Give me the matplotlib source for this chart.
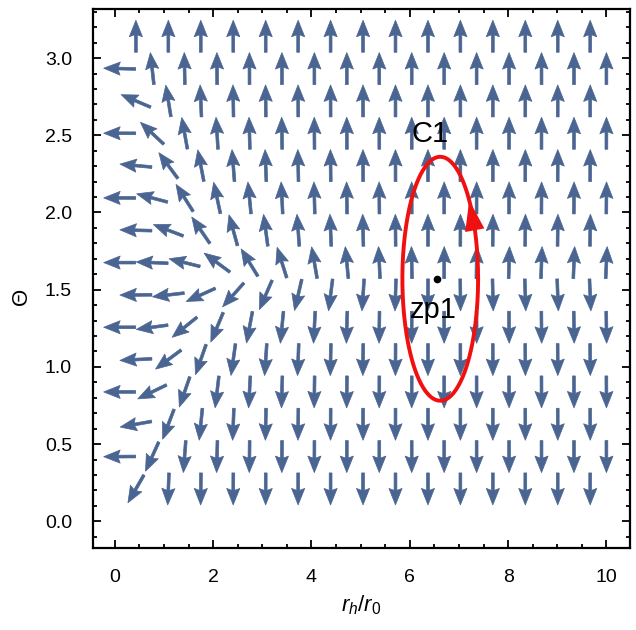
import numpy as np
import matplotlib.pyplot as plt
from matplotlib.ticker import MultipleLocator

plt.rcParams['font.family'] = ['Liberation Sans', 'DejaVu Sans']
plt.rcParams['mathtext.fontset'] = 'custom'
plt.rcParams['mathtext.rm'] = 'Liberation Sans'
plt.rcParams['mathtext.it'] = 'Liberation Sans:italic'

# staggered sampling grid of the vector plot
theta_rows = np.pi * np.arange(1, 16) / 15
r_even = np.linspace(0.1, 10.0, 16)
r_odd = (r_even[:-1] + r_even[1:]) / 2

# phi^r ~ -a/r^3 - b/r^2 + c  (zero near r_h/r_0 = 6.6), phi^Theta = -cot csc
phi_a, phi_b, phi_c = 2.986, 0.622, 0.0247

# contour C1 and zero point zp1
zp1 = (6.56, np.pi / 2)
c1_center = (6.62, np.pi / 2)
c1_half = (0.77, 0.79)

xlim = (-0.448, 10.48)
ylim = (-0.173, 3.318)
arrow_col = '#4a6591'


def phi_r(r):
    return -phi_a / r**3 - phi_b / r**2 + phi_c


def phi_t(t):
    return -np.cos(t) / np.sin(t)**2


fig = plt.figure(figsize=(6.36, 6.30), dpi=100)
ax = fig.add_axes([0.1458, 0.1302, 0.8448, 0.8555])
ax.set_xlim(*xlim)
ax.set_ylim(*ylim)

# pixels per data unit, so arrows have the same on-screen length
pos = ax.get_position()
sx = pos.width * 636 / (xlim[1] - xlim[0])
sy = pos.height * 630 / (ylim[1] - ylim[0])

X, Y = [], []
for k, t in enumerate(theta_rows, start=1):
    rs = r_even if k % 2 == 0 else r_odd
    X.extend(rs)
    Y.extend([t] * len(rs))
X = np.array(X)
Y = np.array(Y)
U = phi_r(X) * sx
V = phi_t(Y) * sy
n = np.hypot(U, V)
L = 32.0
ax.quiver(X, Y, U / n * L, V / n * L, angles='uv', scale_units='dots', scale=1,
          units='dots', width=2.8, headwidth=4.7, headlength=5.9,
          headaxislength=5.2, pivot='middle', color=arrow_col,
          edgecolor=arrow_col, linewidth=0.5, zorder=2)

# contour C1
s = np.linspace(0, 2 * np.pi, 300)
ex = c1_center[0] + c1_half[0] * np.cos(s)
ey = c1_center[1] + c1_half[1] * np.sin(s)
ax.plot(ex, ey, color='#f01010', lw=2.8, zorder=3)
t_tip, t_tail = 0.70, 0.38
tip = (c1_center[0] + c1_half[0] * np.cos(t_tip), c1_center[1] + c1_half[1] * np.sin(t_tip))
tail = (c1_center[0] + c1_half[0] * np.cos(t_tail), c1_center[1] + c1_half[1] * np.sin(t_tail))
ax.annotate('', xy=tip, xytext=tail,
            arrowprops=dict(arrowstyle='-|>,head_length=22,head_width=7',
                            mutation_scale=1, color='#f01010', lw=0,
                            shrinkA=0, shrinkB=0), zorder=4)

ax.plot(*zp1, 'o', color='black', ms=4.5, zorder=5)
ax.text(6.42, 2.51, 'C1', fontsize=21, ha='center', va='center', zorder=5)
ax.text(6.48, 1.37, 'zp1', fontsize=21, ha='center', va='center', zorder=5)

ax.set_xticks(range(0, 11, 2))
ax.xaxis.set_minor_locator(MultipleLocator(0.5))
ax.yaxis.set_major_locator(MultipleLocator(0.5))
ax.yaxis.set_minor_locator(MultipleLocator(0.1))
ax.tick_params(which='both', direction='in', top=True, right=True, width=1.3)
ax.tick_params(which='major', length=5.5, labelsize=14, pad=15)
ax.tick_params(which='minor', length=3)
for sp in ax.spines.values():
    sp.set_linewidth(1.6)

ax.set_xlabel('$r_h/r_0$', fontsize=16, va='center')
ax.xaxis.set_label_coords(0.5, -0.106)
ax.set_ylabel('Θ', fontsize=16, va='center')
ax.yaxis.set_label_coords(-0.132, 0.466)

fig.savefig('out.png', dpi=100)
